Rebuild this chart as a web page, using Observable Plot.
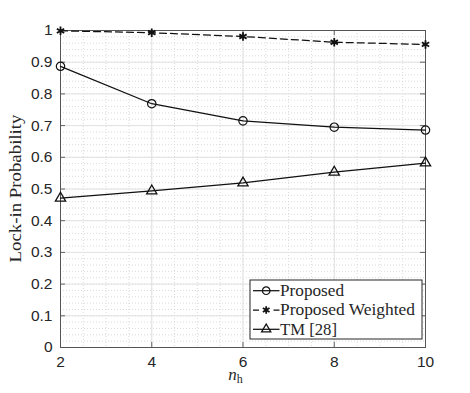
<!DOCTYPE html>
<html>
<head>
<meta charset="utf-8">
<script src="https://cdn.jsdelivr.net/npm/d3@7"></script>
<script src="https://cdn.jsdelivr.net/npm/@observablehq/plot@0.6"></script>
<style>
  html, body { margin: 0; padding: 0; background: #fff; }
  svg text.serif, svg text.serif tspan { font-family: "Liberation Serif", "DejaVu Serif", serif !important; }
</style>
</head>
<body>
<div id="chart"></div>
<script>
const nh = [2, 4, 6, 8, 10];
const seriesNames = ["Proposed", "Proposed Weighted", "TM [28]"];
const proposed = [0.887, 0.769, 0.715, 0.695, 0.686];
const weighted = [0.999, 0.993, 0.981, 0.963, 0.956];
const tm = [0.471, 0.494, 0.519, 0.553, 0.582];
const xTicks = [2, 4, 6, 8, 10];
const yTicks = [0, 0.1, 0.2, 0.3, 0.4, 0.5, 0.6, 0.7, 0.8, 0.9, 1];
const xMinor = d3.range(2, 10.001, 0.5);
const yMinor = d3.range(0, 1.0001, 0.02);
const xLabel = "n";
const xLabelSub = "h";
const yLabel = "Lock-in Probability";

const values = [proposed, weighted, tm];
const symbols = ["circle", "asterisk", "triangle"];
const dashes = [null, "7,4", null];
const rs = [4.2, 4.0, 3.8];
const sws = [1.2, 1.8, 1.3];
const rows = seriesNames.flatMap((s, i) => nh.map((x, j) => ({series: s, x, y: values[i][j]})));

const ink = "#262626";
const axisInk = "#555";
const sans = "'Liberation Sans', Arial, Helvetica, sans-serif";

const lineMarks = seriesNames.map((s, i) =>
  Plot.line(rows.filter(d => d.series === s), {x: "x", y: "y", stroke: "#111", strokeWidth: 1.25, strokeDasharray: dashes[i]})
);
const dotMarks = seriesNames.map((s, i) =>
  Plot.dot(rows.filter(d => d.series === s), {x: "x", y: "y", symbol: () => symbols[i], r: rs[i], stroke: "#111", strokeWidth: sws[i], fill: "none"})
);

const chart = Plot.plot({
  width: 470,
  height: 393,
  marginLeft: 60,
  marginRight: 45,
  marginTop: 30,
  marginBottom: 46,
  style: {background: "#fff"},
  x: {domain: [2, 10]},
  y: {domain: [0, 1]},
  marks: [
    Plot.ruleX(xMinor, {stroke: "#d2d2d2", strokeWidth: 0.8, strokeDasharray: "1,2"}),
    Plot.ruleY(yMinor, {stroke: "#d2d2d2", strokeWidth: 0.8, strokeDasharray: "1,2"}),
    Plot.ruleX(xTicks, {stroke: "#e2e2e2", strokeWidth: 1}),
    Plot.ruleY(yTicks, {stroke: "#e2e2e2", strokeWidth: 1}),
    // inward ticks
    Plot.ruleX(xTicks, {y1: 0, y2: 0.016, stroke: axisInk, strokeWidth: 0.9}),
    Plot.ruleX(xTicks, {y1: 1, y2: 0.984, stroke: axisInk, strokeWidth: 0.9}),
    Plot.ruleY(yTicks, {x1: 2, x2: 2.11, stroke: axisInk, strokeWidth: 0.9}),
    Plot.ruleY(yTicks, {x1: 10, x2: 9.89, stroke: axisInk, strokeWidth: 0.9}),
    Plot.frame({stroke: axisInk, strokeWidth: 1}),
    Plot.axisX(xTicks, {tickSize: 0, tickPadding: 8, fontSize: 15.5, fontFamily: sans, fill: ink, label: null, tickFormat: d => String(d)}),
    Plot.axisY(yTicks, {tickSize: 0, tickPadding: 8, fontSize: 15.5, fontFamily: sans, fill: ink, label: null, tickFormat: d => String(+d.toFixed(1))}),
    ...lineMarks,
    ...dotMarks
  ]
});

document.getElementById("chart").appendChild(chart);

const svg = d3.select(chart);
const sx = chart.scale("x"), sy = chart.scale("y");
const fx0 = sx.apply(2), fx1 = sx.apply(10), fy0 = sy.apply(0), fy1 = sy.apply(1);

// y label
svg.append("text")
  .attr("class", "serif")
  .attr("transform", `translate(${fx0 - 39},${(fy0 + fy1) / 2}) rotate(-90)`)
  .attr("text-anchor", "middle")
  .attr("font-size", 16.5)
  .attr("fill", ink)
  .attr("textLength", 148)
  .attr("lengthAdjust", "spacingAndGlyphs")
  .text(yLabel);

// x label with subscript
const xl = svg.append("text")
  .attr("class", "serif")
  .attr("x", (fx0 + fx1) / 2 - 7)
  .attr("y", fy0 + 33)
  .attr("text-anchor", "middle")
  .attr("fill", ink);
xl.append("tspan").attr("font-size", 17).attr("font-style", "italic").text(xLabel);
xl.append("tspan").attr("font-size", 12).attr("dy", 3).text(xLabelSub);

// legend
const lw = 172, lh = 59;
const lx = fx1 - 3 - lw, ly = fy0 - 8 - lh;
const lg = svg.append("g");
lg.append("rect").attr("x", lx).attr("y", ly).attr("width", lw).attr("height", lh)
  .attr("fill", "#fff").attr("stroke", ink).attr("stroke-width", 1);
const symMap = {circle: d3.symbolCircle, asterisk: d3.symbolAsterisk, triangle: d3.symbolTriangle};
const textLens = [64, 135, 57];
seriesNames.forEach((s, i) => {
  const cy = ly + 10.7 + i * 19.3;
  lg.append("line").attr("x1", lx + 3).attr("x2", lx + 29.5).attr("y1", cy).attr("y2", cy)
    .attr("stroke", "#111").attr("stroke-width", 1.25).attr("stroke-dasharray", dashes[i] ? "6,14.5" : null);
  const r = rs[i] * 0.9;
  lg.append("path").attr("transform", `translate(${lx + 16.2},${cy})`)
    .attr("d", d3.symbol(symMap[symbols[i]], Math.PI * r * r)())
    .attr("fill", "none").attr("stroke", "#111").attr("stroke-width", sws[i]);
  lg.append("text").attr("class", "serif").attr("x", lx + 30).attr("y", cy).attr("dy", "0.33em")
    .attr("text-anchor", "start")
    .attr("font-size", 16).attr("fill", ink)
    .attr("textLength", textLens[i]).attr("lengthAdjust", "spacingAndGlyphs")
    .text(s);
});
</script>
</body>
</html>
